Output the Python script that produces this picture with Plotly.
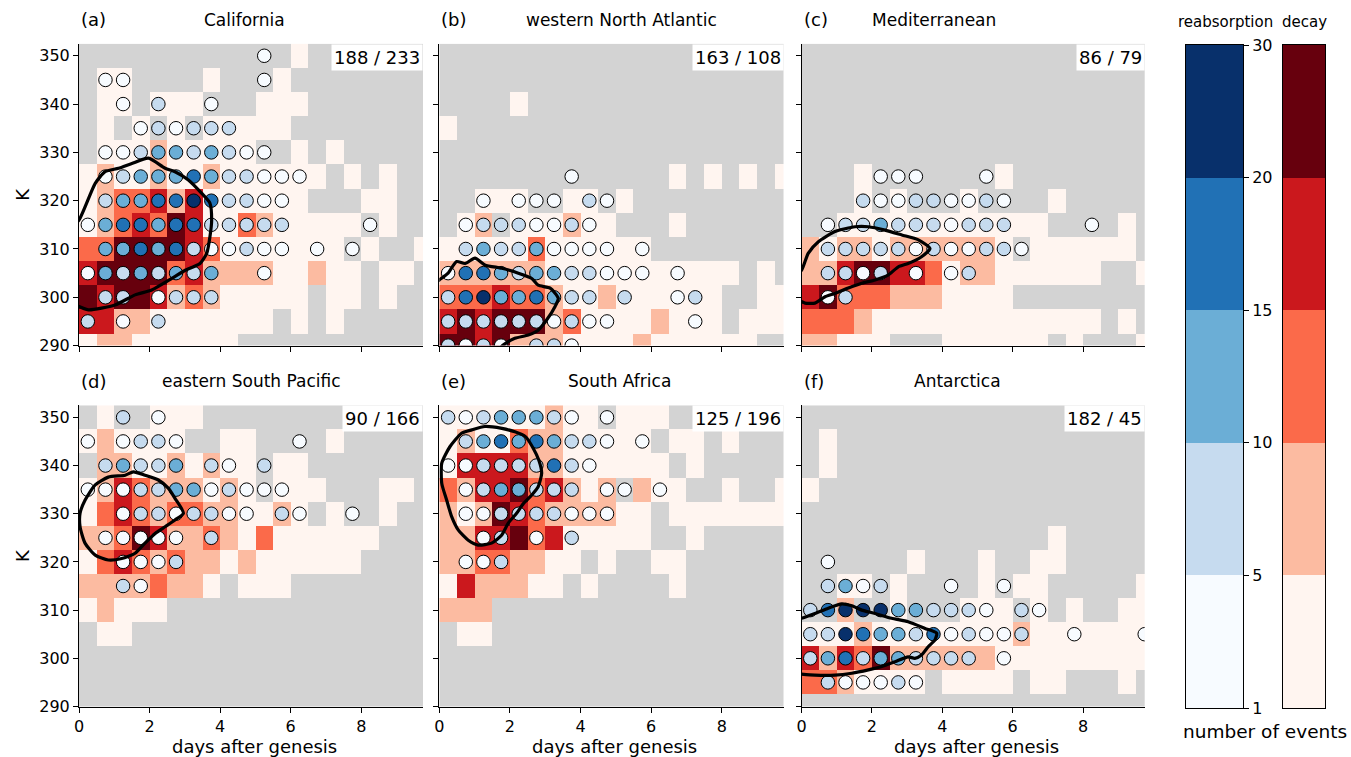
import plotly.graph_objects as go

# ---- bins -------------------------------------------------------------
DAY_BINS = [0.25, 0.75, 1.25, 1.75, 2.25, 2.75, 3.25, 3.75, 4.25, 4.75,
            5.25, 5.75, 6.25, 6.75, 7.25, 7.75, 8.25, 8.75, 9.25, 9.75]
K_BINS = [350, 345, 340, 335, 330, 325, 320, 315, 310, 305, 300, 295, 290]

# class of event count per cell: '.' none, 1: 1-4, 2: 5-9, 3: 10-14, 4: 15-19, 5: 20-30
COUNT_CLASS_EDGES = ["1", "5", "10", "15", "20", "30"]

# ---- (a) California ----------------------------------------------------
DECAY_A = [
    "............1.......",
    ".11....1...1........",
    ".11.111...111.......",
    ".1.1.1.11111........",
    ".111211111..1.1.....",
    "12112112111111.1.1..",
    "1233424111111...11..",
    "1234354113211111.1..",
    "335555431111111.1..1",
    "4555534222211211.11.",
    "5455423211111.11.1..",
    "44221111111.1.1.....",
    "122111111...........",
]
REABS_A = [
    "..........1.........",
    ".11.......1.........",
    "..1.2..1............",
    "...121222...........",
    ".1123323211.........",
    ".123334322111.......",
    ".23344542211........",
    "134434422222....1...",
    ".33434211211.1.1....",
    "13232323..1.........",
    ".22.1222............",
    "2.1.2...............",
    "....................",
]
CONTOUR_A_X = [-0.3, 0.0, 0.46, 0.74, 1.12, 1.50, 1.97, 2.44, 2.72, 3.10, 3.48, 3.71,
               3.76, 3.71, 3.62, 3.43, 3.01, 2.63, 2.06, 1.59, 1.02, 0.27, 0.0, -0.3]
CONTOUR_A_Y = [314.0, 316.0, 323.6, 326.0, 326.7, 327.7, 328.8, 326.7, 326.0, 324.3, 321.5, 319.5,
               316.0, 312.5, 309.1, 307.0, 305.6, 303.9, 301.5, 300.5, 298.4, 297.4, 298.1, 299.0]

# ---- (b) western North Atlantic ------------------------------------------
DECAY_B = [
    "....................",
    "....................",
    "....1...............",
    "1...................",
    "....................",
    ".............1.1.1.1",
    "..111..11.1.........",
    ".12.111211...1......",
    "111113111111........",
    "22222211111111111.1.",
    "3334332112111111..11",
    "4545552311112111.111",
    "554522211112111111..",
]
REABS_B = [
    "....................",
    "....................",
    "....................",
    "....................",
    "....................",
    ".......1............",
    "..1.111.21..........",
    ".12221121...........",
    ".232231111.1........",
    "144323322111.1......",
    "245334322.2..12.....",
    "2222221211....1.....",
    "2121.221............",
]
CONTOUR_B_X = [-0.3, 0.0, 0.25, 0.49, 0.73, 1.01, 1.29, 1.77, 2.24, 2.62, 2.80, 3.14, 3.37,
               3.28, 3.04, 2.80, 2.52, 2.14, 1.81, 1.6]
CONTOUR_B_Y = [302.0, 303.6, 305.0, 307.4, 307.0, 308.1, 306.7, 306.0, 305.0, 303.9, 302.5, 301.9, 299.8,
               298.1, 295.3, 293.2, 292.2, 291.5, 290.1, 288.5]

# ---- (c) Mediterranean -------------------------------------------------
DECAY_C = [
    "....................",
    "....................",
    "....................",
    "....................",
    "....................",
    "...1.......1........",
    "...1.1...1....1.....",
    "..111111111111....1.",
    "212212222221.111111.",
    "22455443122111111..1",
    "453332221111........",
    "33321111111111111.1.",
    "22111...111111.1...1",
]
REABS_C = [
    "....................",
    "....................",
    "....................",
    "....................",
    "....................",
    "....111...1.........",
    "...211221121........",
    ".12232221222....1...",
    ".222221211221.......",
    ".2212.1.12..........",
    ".12.................",
    "....................",
    "....................",
]
CONTOUR_C_X = [-0.3, 0.0, 0.19, 0.48, 0.95, 1.52, 1.90, 2.37, 2.85, 3.32, 3.65, 3.41, 3.03,
               2.75, 2.46, 2.09, 1.71, 1.33, 0.95, 0.67, 0.38, 0.10, 0.0, -0.3]
CONTOUR_C_Y = [304.0, 305.6, 309.1, 311.5, 313.6, 314.6, 314.6, 313.9, 312.9, 311.9, 310.1, 308.4, 307.0,
               306.3, 304.6, 303.6, 302.9, 301.9, 300.8, 300.1, 298.8, 298.8, 299.1, 299.5]

# ---- (d) eastern South Pacific -------------------------------------------
DECAY_D = [
    ".1..111.............",
    "121111..11....1.....",
    ".221121211.11.......",
    "1243222121.111...11.",
    "1343233221121.1..1..",
    "22354223213111111...",
    "1343232212111111....",
    "22223221.111........",
    "12111...............",
    ".11.................",
    "....................",
    "....................",
    "....................",
]
REABS_D = [
    "..2.1...............",
    "1.1221......1.......",
    ".23223.21.2.........",
    "111223312111........",
    "..12212211.21..1....",
    ".11111.2............",
    "..1112..............",
    "..21................",
    "....................",
    "....................",
    "....................",
    "....................",
    "....................",
]
CONTOUR_D_X = [0.03, 0.17, 0.46, 0.83, 1.31, 1.54, 1.87, 2.25, 2.53, 2.72, 2.96, 2.72, 2.44,
               2.16, 1.87, 1.59, 1.21, 0.83, 0.46, 0.17, 0.03, 0.03]
CONTOUR_D_Y = [330.1, 332.8, 336.0, 337.6, 338.0, 338.7, 338.0, 337.0, 335.3, 333.2, 330.1, 328.7, 327.3,
               325.9, 323.9, 321.8, 320.7, 320.4, 321.4, 323.9, 327.3, 330.1]

# ---- (e) South Africa ------------------------------------------------------
DECAY_E = [
    "111111211.111.......",
    "121132211111.11.1...",
    "1444422111111.1.....",
    "3244534212.211..1..1",
    "212543222211.1111111",
    "224453411111..1.....",
    "22332211.1..11......",
    "1422211.1....1......",
    "222.................",
    ".11.................",
    "....................",
    "....................",
    "....................",
]
REABS_E = [
    "21233321.1..........",
    ".234343221.1........",
    "112222421...........",
    ".1233222.11.1.......",
    ".112222111..........",
    "..12.1.2............",
    ".112................",
    "....................",
    "....................",
    "....................",
    "....................",
    "....................",
    "....................",
]
CONTOUR_E_X = [0.07, 0.30, 0.63, 0.92, 1.29, 1.77, 2.14, 2.44, 2.66, 2.82, 2.90, 2.80, 2.62,
               2.38, 2.19, 1.95, 1.77, 1.48, 1.10, 0.82, 0.54, 0.35, 0.21, 0.07, 0.07]
CONTOUR_E_Y = [340.5, 343.9, 346.7, 347.4, 348.1, 347.7, 347.0, 346.0, 343.6, 341.1, 338.4, 335.6, 333.9,
               332.1, 330.1, 328.0, 325.6, 323.9, 323.5, 324.5, 326.6, 329.4, 332.8, 336.3, 340.5]

# ---- (f) Antarctica ------------------------------------------------------
DECAY_F = [
    "....................",
    ".1..................",
    ".1..................",
    "1...................",
    "....................",
    "..............1.....",
    "......1...1..11.....",
    "..11.1....1.11.....1",
    "..2..1...111.1.1..11",
    "11121111111121111111",
    "42435222222111111111",
    "3321111.1111.11...1.",
    "....................",
]
REABS_F = [
    "....................",
    "....................",
    "....................",
    "....................",
    "....................",
    "....................",
    ".1..................",
    ".2312...1..1........",
    "24555332221.21......",
    "2254332412112..1...1",
    "2342332222.1........",
    ".211121.............",
    "....................",
]
CONTOUR_F_X = [-0.3, 0.0, 0.38, 0.76, 1.14, 1.43, 1.71, 2.09, 2.56, 3.03, 3.51, 3.84, 3.79, 3.60,
               3.41, 3.22, 3.03, 2.66, 2.28, 1.90, 1.43, 0.95, 0.38, 0.0, -0.3]
CONTOUR_F_Y = [307.8, 308.3, 309.3, 310.4, 311.3, 310.9, 310.0, 309.3, 308.3, 307.6, 306.2, 305.2, 303.8, 302.4,
               300.7, 300.0, 300.3, 299.3, 298.3, 297.6, 296.9, 296.5, 296.5, 296.7, 296.9]

PANELS = [
    ("(a)", "California", "188 / 233", DECAY_A, REABS_A, CONTOUR_A_X, CONTOUR_A_Y),
    ("(b)", "western North Atlantic", "163 / 108", DECAY_B, REABS_B, CONTOUR_B_X, CONTOUR_B_Y),
    ("(c)", "Mediterranean", "86 / 79", DECAY_C, REABS_C, CONTOUR_C_X, CONTOUR_C_Y),
    ("(d)", "eastern South Pacific", "90 / 166", DECAY_D, REABS_D, CONTOUR_D_X, CONTOUR_D_Y),
    ("(e)", "South Africa", "125 / 196", DECAY_E, REABS_E, CONTOUR_E_X, CONTOUR_E_Y),
    ("(f)", "Antarctica", "182 / 45", DECAY_F, REABS_F, CONTOUR_F_X, CONTOUR_F_Y),
]
TITLE_CENTERS_PX = [244, 621, 934, 251, 619, 957]

# ---- styling -----------------------------------------------------------
W, H = 1351, 757
FONT = "DejaVu Sans"
GRAY = "#d3d3d3"
REDS = ["#fff5f0", "#fcbba1", "#fb6a4a", "#cb181d", "#67000d"]
BLUES = ["#f7fbff", "#c6dbef", "#6baed6", "#2171b5", "#08306b"]

PANEL_X_PX = [(79, 423), (439.3, 783.5), (801.5, 1144.7)]
PANEL_Y_PX = [(43.7, 345.6), (405.3, 706.5)]


def px_x(p):
    return p / W


def px_y(p):
    return 1 - p / H


def note(x, y, text, size, xanchor="center", yanchor="middle", angle=0):
    return dict(x=px_x(x), y=px_y(y), xref="paper", yref="paper", text=text,
                showarrow=False, xanchor=xanchor, yanchor=yanchor, textangle=angle,
                font=dict(size=size))


decay_scale = []
for k, c in enumerate([GRAY] + REDS):
    decay_scale.append([k / 6, c])
    decay_scale.append([(k + 1) / 6, c])

fig = go.Figure()
layout = dict(
    width=W, height=H, margin=dict(l=0, r=0, t=0, b=0, pad=0, autoexpand=False),
    paper_bgcolor="white", plot_bgcolor="white",
    font=dict(family=FONT, size=16, color="black"),
    showlegend=False,
)
annotations = []

for i, (letter, title, counts, decay, reabs, cx, cy) in enumerate(PANELS):
    r, c = divmod(i, 3)
    n = i + 1
    xa = "x" if n == 1 else f"x{n}"
    ya = "y" if n == 1 else f"y{n}"
    x0, x1 = PANEL_X_PX[c]
    y0, y1 = PANEL_Y_PX[r]

    z = [[(0 if ch == "." else int(ch)) for ch in row] for row in decay]
    fig.add_trace(go.Heatmap(
        x=DAY_BINS, y=K_BINS, z=z, zmin=-0.5, zmax=5.5,
        colorscale=decay_scale, showscale=False, hoverinfo="skip",
        xaxis=xa, yaxis=ya,
    ))

    mx, my, mc = [], [], []
    for ri, row in enumerate(reabs):
        for ci, ch in enumerate(row):
            if ch != ".":
                mx.append(DAY_BINS[ci])
                my.append(K_BINS[ri])
                mc.append(BLUES[int(ch) - 1])
    fig.add_trace(go.Scatter(
        x=mx, y=my, mode="markers", cliponaxis=True,
        marker=dict(size=13.5, color=mc, line=dict(color="black", width=1)),
        hoverinfo="skip", xaxis=xa, yaxis=ya,
    ))

    fig.add_trace(go.Scatter(
        x=cx, y=cy, mode="lines", line=dict(color="black", width=3.2, shape="spline", smoothing=0.6),
        hoverinfo="skip", xaxis=xa, yaxis=ya,
    ))

    key_x = "xaxis" if n == 1 else f"xaxis{n}"
    key_y = "yaxis" if n == 1 else f"yaxis{n}"
    layout[key_x] = dict(
        domain=[px_x(x0), px_x(x1)], range=[0, 9.75], anchor=ya, automargin=False,
        tickvals=[0, 2, 4, 6, 8], showticklabels=(r == 1),
        ticks="outside", ticklen=5, tickwidth=1, tickcolor="black",
        showline=True, linecolor="black", linewidth=1, showgrid=False, zeroline=False,
        tickfont=dict(size=16),
    )
    layout[key_y] = dict(
        domain=[px_y(y1), px_y(y0)], range=[290, 352.5], anchor=xa, automargin=False,
        tickvals=[290, 300, 310, 320, 330, 340, 350], showticklabels=(c == 0),
        ticks="outside", ticklen=5, tickwidth=1, tickcolor="black",
        showline=True, linecolor="black", linewidth=1, showgrid=False, zeroline=False,
        tickfont=dict(size=16),
    )

    annotations.append(note(x0, y0 - 24, letter, 18, xanchor="left"))
    annotations.append(note(TITLE_CENTERS_PX[i], y0 - 24, title, 17))
    annotations.append(dict(
        x=9.75, y=352.5, xref=xa, yref=ya, text=counts, showarrow=False,
        xanchor="right", yanchor="top", bgcolor="white", borderpad=2,
        font=dict(size=18),
    ))
    if c == 0:
        annotations.append(note(23, (y0 + y1) / 2, "K", 18, angle=-90))
    if r == 1:
        annotations.append(note((x0 + x1) / 2 + 3, 746, "days after genesis", 18))

# ---- colour keys -----------------------------------------------------
CB_Y = (45, 708)
for n, (xl, xr, colors, label, lx) in zip(
        (7, 8),
        [(1186, 1243, BLUES, "reabsorption", 1225), (1283, 1325, REDS, "decay", 1304)]):
    xa, ya = f"x{n}", f"y{n}"
    scale = []
    for k, col in enumerate(colors):
        scale.append([k / 5, col])
        scale.append([(k + 1) / 5, col])
    fig.add_trace(go.Heatmap(
        x=[0], y=[0.5, 1.5, 2.5, 3.5, 4.5], z=[[1], [2], [3], [4], [5]],
        zmin=0.5, zmax=5.5, colorscale=scale, showscale=False, hoverinfo="skip",
        xaxis=xa, yaxis=ya,
    ))
    layout[f"xaxis{n}"] = dict(domain=[px_x(xl), px_x(xr)], range=[-0.5, 0.5], anchor=ya,
                               automargin=False, showticklabels=False, ticks="",
                               showline=True, mirror=True,
                               linecolor="black", linewidth=1, showgrid=False, zeroline=False)
    layout[f"yaxis{n}"] = dict(domain=[px_y(CB_Y[1]), px_y(CB_Y[0])], range=[0, 5], anchor=xa,
                               automargin=False,
                               tickvals=[0, 1, 2, 3, 4, 5], ticktext=COUNT_CLASS_EDGES,
                               showticklabels=(n == 7), side="right",
                               ticks="outside" if n == 7 else "", ticklen=5, tickcolor="black",
                               showline=True, mirror=True, linecolor="black", linewidth=1,
                               showgrid=False, zeroline=False, tickfont=dict(size=16))
    annotations.append(note(lx, 22, label, 15))

annotations.append(note(1265, 731, "number of events", 18.5))

layout["annotations"] = annotations
fig.update_layout(**layout)
fig.write_html("out.html")
